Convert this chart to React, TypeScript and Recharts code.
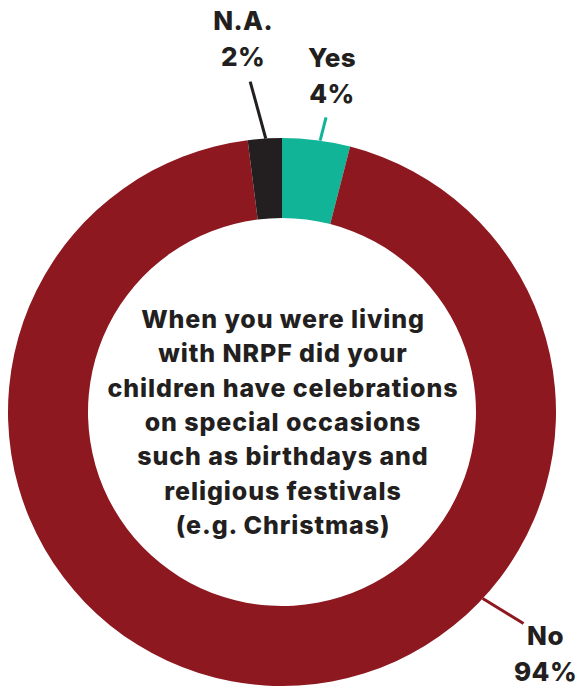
import React from "react";
import { PieChart, Pie, Cell } from "recharts";

const categories = ["Yes", "No", "N.A."];
const shares = [4, 94, 2];
const colors = ["#12b497", "#8e1820", "#231f20"];
const question = [
  "When you were living",
  "with NRPF did your",
  "children have celebrations",
  "on special occasions",
  "such as birthdays and",
  "religious festivals",
  "(e.g. Christmas)",
];

// leader line placement per slice: start angle on the rim, end angle + extra radius, text offset from line end
const callouts = [
  { from: 82.0, to: 81.5, extra: 24, dx: 6, dy: -50, line: "#12b497" },
  { from: -42.9, to: -41.2, extra: 47, dx: 22, dy: 22, line: "#8e1820" },
  { from: 93.4, to: 95.5, extra: 58, dx: -7, dy: -52, line: "#231f20" },
];

const data = categories.map((name, i) => ({ name, value: shares[i] }));

const RAD = Math.PI / 180;
const ink = "#231f20";
const font = "Inter, 'Noto Sans', sans-serif";

const renderLabel = (props: any) => {
  const { cx, cy, outerRadius, index } = props;
  const c = callouts[index];
  const x1 = cx + outerRadius * Math.cos(c.from * RAD);
  const y1 = cy - outerRadius * Math.sin(c.from * RAD);
  const r2 = outerRadius + c.extra;
  const x2 = cx + r2 * Math.cos(c.to * RAD);
  const y2 = cy - r2 * Math.sin(c.to * RAD);
  const tx = x2 + c.dx;
  const ty = y2 + c.dy;
  const lh = 34.3;
  const top = cy - 84;
  return (
    <g key={`lbl-${index}`}>
      <line x1={x1} y1={y1} x2={x2} y2={y2} stroke={c.line} strokeWidth={3} />
      <text x={tx} y={ty} textAnchor="middle" fill={ink} fontFamily={font} fontWeight={800} fontSize={26} letterSpacing={0.4}>
        <tspan x={tx} y={ty}>{categories[index]}</tspan>
        <tspan x={tx} y={ty + 36}>{shares[index]}%</tspan>
      </text>
      {index === 0 && (
        <text textAnchor="middle" fill={ink} fontFamily={font} fontWeight={800} fontSize={25} letterSpacing={0.9}>
          {question.map((q, i) => (
            <tspan key={i} x={cx + 1} y={top + i * lh}>{q}</tspan>
          ))}
        </text>
      )}
    </g>
  );
};

export default function App() {
  return (
    <div style={{ position: "absolute", left: 0, top: 0, width: 584, height: 686, background: "#fff" }}>
      <PieChart width={584} height={686} margin={{ top: 0, right: 0, bottom: 0, left: 0 }}>
        <Pie
          data={data}
          dataKey="value"
          nameKey="name"
          cx={282}
          cy={412}
          innerRadius={194}
          outerRadius={274}
          startAngle={90}
          endAngle={-270}
          stroke="none"
          label={renderLabel}
          labelLine={false}
          isAnimationActive={false}
        >
          {data.map((d, i) => (
            <Cell key={d.name} fill={colors[i]} />
          ))}
        </Pie>
      </PieChart>
    </div>
  );
}
